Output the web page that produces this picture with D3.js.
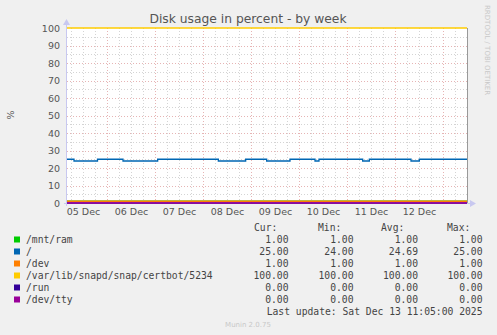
<!DOCTYPE html>
<html lang="en">
<head>
    <meta charset="UTF-8">
    <title>Disk usage in percent - by week</title>
    <script src="https://d3js.org/d3.v7.min.js"></script>
    <style>
        body { margin: 0; background: #f0f0f0; }
        svg { display: block; }
        text { font-family: "DejaVu Sans", sans-serif; fill: #555; }
        .mono { font-family: "DejaVu Sans Mono", monospace; font-size: 9.7px; fill: #444; }
    </style>
</head>
<body>
    <svg width="497" height="335"></svg>

    <script>
        // Legend / series names and colours (munin palette)
        const names = ["/mnt/ram", "/", "/dev", "/var/lib/snapd/snap/certbot/5234", "/run", "/dev/tty"];
        const colors = ["#00cc00", "#0066b3", "#ff8000", "#ffcc00", "#330099", "#990099"];
        const curVals = ["1.00", "25.00", "1.00", "100.00", "0.00", "0.00"];
        const minVals = ["1.00", "24.00", "1.00", "100.00", "0.00", "0.00"];
        const avgVals = ["1.00", "24.69", "1.00", "100.00", "0.00", "0.00"];
        const maxVals = ["1.00", "25.00", "1.00", "100.00", "0.00", "0.00"];

        // Constant series levels
        const constLevels = [1, null, 1, 100, 0, 0];

        // "/" usage: step changes (time, value)
        const rootTimes = [
            "2025-12-05T04:00Z", "2025-12-05T07:30Z", "2025-12-05T19:15Z", "2025-12-06T08:00Z",
            "2025-12-07T01:20Z", "2025-12-08T07:40Z", "2025-12-08T21:20Z", "2025-12-09T07:50Z",
            "2025-12-09T19:30Z", "2025-12-10T08:00Z", "2025-12-10T10:00Z", "2025-12-11T07:50Z",
            "2025-12-11T11:10Z", "2025-12-12T08:00Z", "2025-12-12T12:10Z", "2025-12-13T12:00Z"
        ];
        const rootValues = [25, 24, 25, 24, 25, 24, 25, 24, 25, 24, 25, 24, 25, 24, 25, 25];

        const dayLabels = ["05 Dec", "06 Dec", "07 Dec", "08 Dec", "09 Dec", "10 Dec", "11 Dec", "12 Dec"];
        const yTicks = [0, 10, 20, 30, 40, 50, 60, 70, 80, 90, 100];

        const start = d3.isoParse("2025-12-05T04:00Z");
        const end = d3.isoParse("2025-12-13T12:00Z");

        const pLeft = 67, pRight = 467, pTop = 28, pBottom = 203;

        const x = d3.scaleTime().domain([start, end]).range([pLeft, pRight]);
        const y = d3.scaleLinear().domain([0, 100]).range([pBottom, pTop]);

        const svg = d3.select("svg");

        // plot background
        svg.append("rect")
            .attr("x", pLeft).attr("y", pTop)
            .attr("width", pRight - pLeft).attr("height", pBottom - pTop)
            .attr("fill", "#fff");

        // minor grid
        const minorX = d3.utcHour.every(6).range(start, end).filter(d => d.getUTCHours() !== 0);
        const minorY = d3.range(5, 100, 10);
        const grid = svg.append("g").attr("stroke-width", 1).attr("stroke-dasharray", "1,2");
        grid.selectAll(".mx").data(minorX).join("line")
            .attr("x1", d => Math.round(x(d)) + 0.5).attr("x2", d => Math.round(x(d)) + 0.5)
            .attr("y1", pTop).attr("y2", pBottom)
            .attr("stroke", "#d4d4d4");
        grid.selectAll(".my").data(minorY).join("line")
            .attr("x1", pLeft).attr("x2", pRight)
            .attr("y1", d => Math.round(y(d)) + 0.5).attr("y2", d => Math.round(y(d)) + 0.5)
            .attr("stroke", "#d4d4d4");

        // major grid
        const majorX = d3.utcDay.range(start, end);
        grid.selectAll(".Mx").data(majorX).join("line")
            .attr("x1", d => Math.round(x(d)) + 0.5).attr("x2", d => Math.round(x(d)) + 0.5)
            .attr("y1", pTop).attr("y2", pBottom)
            .attr("stroke", "#e6b4b4");
        grid.selectAll(".My").data(yTicks.filter(d => d > 0 && d < 100)).join("line")
            .attr("x1", pLeft).attr("x2", pRight)
            .attr("y1", d => Math.round(y(d)) + 0.5).attr("y2", d => Math.round(y(d)) + 0.5)
            .attr("stroke", "#e6b4b4");

        // right frame line
        svg.append("line")
            .attr("x1", pRight + 0.5).attr("x2", pRight + 0.5)
            .attr("y1", pTop).attr("y2", pBottom + 1)
            .attr("stroke", "#999");

        // axes lines with arrows
        const axisCol = "#c8c8f0";
        svg.append("line")
            .attr("x1", pLeft - 0.5).attr("x2", pLeft - 0.5)
            .attr("y1", pBottom + 3).attr("y2", pTop - 5)
            .attr("stroke", axisCol);
        svg.append("path")
            .attr("d", `M${pLeft - 4},${pTop - 3} L${pLeft - 0.5},${pTop - 9} L${pLeft + 3},${pTop - 3} Z`)
            .attr("fill", axisCol);
        svg.append("line")
            .attr("x1", pLeft - 3).attr("x2", pRight + 5)
            .attr("y1", pBottom + 0.5).attr("y2", pBottom + 0.5)
            .attr("stroke", axisCol);
        svg.append("path")
            .attr("d", `M${pRight + 3},${pBottom - 3} L${pRight + 9},${pBottom + 0.5} L${pRight + 3},${pBottom + 4} Z`)
            .attr("fill", axisCol);

        // series
        const line = d3.line().x(d => x(d[0])).y(d => y(d[1]));
        const rootData = rootTimes.map((t, i) => [d3.isoParse(t), rootValues[i]]);
        const seriesG = svg.append("g").attr("fill", "none").attr("stroke-width", 1.3);
        names.forEach((n, i) => {
            let data;
            if (constLevels[i] === null) data = rootData;
            else data = [[start, constLevels[i]], [end, constLevels[i]]];
            seriesG.append("path")
                .datum(data)
                .attr("d", i === 1 ? line.curve(d3.curveStepAfter)(data) : line.curve(d3.curveLinear)(data))
                .attr("stroke", colors[i]);
        });

        // y axis labels
        svg.append("g")
            .attr("transform", `translate(${pLeft},0)`)
            .call(d3.axisLeft(y).tickValues(yTicks).tickSize(0).tickPadding(7))
            .call(g => g.select(".domain").remove())
            .selectAll("text")
            .attr("font-family", "DejaVu Sans, sans-serif")
            .attr("font-size", "9.5px")
            .attr("fill", "#555");

        // x axis labels (centered at noon)
        const noonTicks = dayLabels.map((l, i) => d3.utcHour.offset(d3.utcDay.offset(d3.utcDay.floor(start), i), 12));
        svg.append("g")
            .attr("transform", `translate(0,${pBottom})`)
            .call(d3.axisBottom(x).tickValues(noonTicks).tickSize(0).tickPadding(5)
                .tickFormat((d, i) => dayLabels[i]))
            .call(g => g.select(".domain").remove())
            .selectAll("text")
            .attr("font-family", "DejaVu Sans, sans-serif")
            .attr("font-size", "9.5px")
            .attr("fill", "#555");

        // title
        svg.append("text")
            .attr("x", 248).attr("y", 23)
            .attr("text-anchor", "middle")
            .attr("font-size", "12.3px")
            .text("Disk usage in percent - by week");

        // y label
        svg.append("text")
            .attr("transform", "translate(14,115) rotate(-90)")
            .attr("text-anchor", "middle")
            .attr("font-size", "9.5px")
            .text("%");

        // rrdtool credit
        svg.append("text")
            .attr("transform", "translate(485,5) rotate(90)")
            .attr("font-size", "7px")
            .style("fill", "#c8c8c8")
            .text("RRDTOOL / TOBI OETIKER");

        // legend
        const rowY = d => 243 + d * 12;
        const heads = [["Cur:", 254], ["Min:", 318], ["Avg:", 381], ["Max:", 447]];
        heads.forEach(h => {
            svg.append("text").attr("class", "mono").attr("x", h[1]).attr("y", 231).text(h[0]);
        });
        const colX = [288.5, 353.5, 418, 482.5];
        const cols = [curVals, minVals, avgVals, maxVals];
        names.forEach((n, i) => {
            svg.append("rect")
                .attr("x", 14).attr("y", rowY(i) - 6.5)
                .attr("width", 6).attr("height", 6)
                .attr("fill", colors[i]);
            svg.append("text").attr("class", "mono")
                .attr("x", 26).attr("y", rowY(i)).text(n);
            cols.forEach((c, j) => {
                svg.append("text").attr("class", "mono")
                    .attr("x", colX[j]).attr("y", rowY(i))
                    .attr("text-anchor", "end")
                    .text(c[i]);
            });
        });
        svg.append("text").attr("class", "mono")
            .attr("x", 482.5).attr("y", 315)
            .attr("text-anchor", "end")
            .text("Last update: Sat Dec 13 11:05:00 2025");

        svg.append("text")
            .attr("x", 248).attr("y", 327)
            .attr("text-anchor", "middle")
            .attr("font-size", "7px")
            .style("fill", "#c8c8c8")
            .text("Munin 2.0.75");
    </script>
</body>
</html>
